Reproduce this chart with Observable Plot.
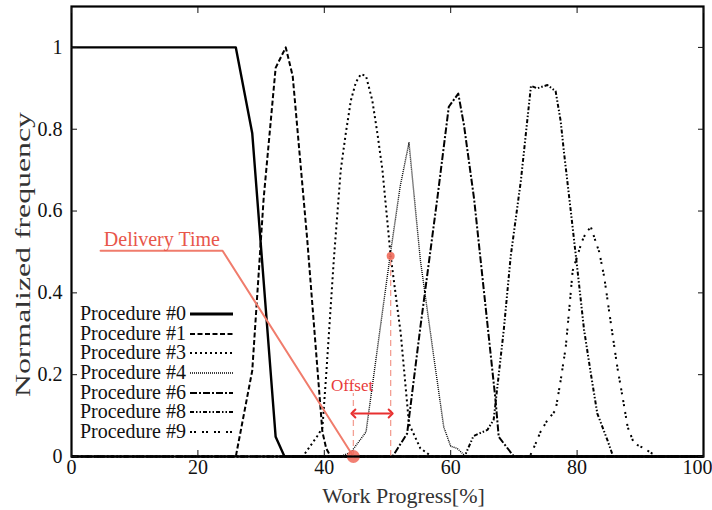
<!DOCTYPE html>
<html><head><meta charset="utf-8">
<script src="https://cdn.jsdelivr.net/npm/d3@7"></script>
<script src="https://cdn.jsdelivr.net/npm/@observablehq/plot@0.6"></script>
<style>
body{margin:0;background:#fff;}
#wrap{position:relative;width:712px;height:510px;font-family:"Liberation Serif","Times New Roman","DejaVu Serif",serif;}
#legend{position:absolute;left:76px;top:304px;}
.row{display:flex;align-items:center;height:19.7px;}
.row span{display:inline-block;width:110px;text-align:right;font-size:20px;line-height:19.7px;color:#111;white-space:nowrap;}
.row svg{display:block;margin-left:3px;}
</style></head><body><div id="wrap"><div id="legend"></div></div>
<script>
// ---- data ----
const xTicks = [0, 20, 40, 60, 80];
const xTickLast = [100];
const yTicks = [0, 0.2, 0.4, 0.6, 0.8, 1];
const names = ["Procedure #0","Procedure #1","Procedure #3","Procedure #4","Procedure #6","Procedure #8","Procedure #9"];

const p0x = [0, 26, 28.6, 32.3, 33.7, 100];
const p0y = [1, 1, 0.79, 0.048, 0, 0];

const p1x = [0, 26, 28.6, 30.4, 32.3, 33.9, 35.0, 37.3, 39.7, 40.3, 41, 100];
const p1y = [0, 0, 0.21, 0.63, 0.95, 1.0, 0.93, 0.53, 0.06, 0.02, 0, 0];

const p3x = [0, 36.6, 38.9, 39.7, 40.3, 41.5, 42.6, 43.4, 44.2, 45.0, 45.8, 46.6, 47.6, 48.4, 49.2, 50.5, 52.1, 53.4, 55.2, 57, 100];
const p3y = [0, 0, 0.05, 0.07, 0.2, 0.48, 0.7, 0.79, 0.87, 0.915, 0.935, 0.93, 0.87, 0.79, 0.7, 0.49, 0.3, 0.08, 0.02, 0, 0];

const p4x = [0, 42.5, 44.2, 46.6, 47.4, 48.9, 50.5, 52, 53.4, 55.2, 57.4, 58.9, 60, 61, 62.4, 100];
const p4y = [0, 0, 0.01, 0.06, 0.15, 0.32, 0.5, 0.66, 0.767, 0.48, 0.235, 0.072, 0.025, 0.02, 0, 0];

const p6x = [0, 50.8, 53.1, 55.2, 57.9, 59.7, 61.2, 62.1, 63.7, 67.1, 67.6, 70, 100];
const p6y = [0, 0, 0.056, 0.316, 0.633, 0.855, 0.887, 0.81, 0.63, 0.137, 0.048, 0, 0];

const p8x = [0, 62.2, 63.6, 65.8, 66.8, 67.6, 68.4, 69.5, 71.1, 72.7, 73.7, 75.3, 76.6, 77.4, 77.9, 79, 80.1, 81.1, 82.2, 83.2, 84.8, 85.7, 100];
const p8y = [0, 0, 0.05, 0.065, 0.09, 0.2, 0.31, 0.49, 0.674, 0.906, 0.9, 0.908, 0.893, 0.82, 0.747, 0.6, 0.45, 0.31, 0.2, 0.105, 0.04, 0, 0];

const p9x = [0, 72.5, 73.4, 74.2, 75.3, 76.6, 77.4, 78.2, 78.7, 79.3, 80.3, 80.8, 81.5, 82.2, 82.9, 83.5, 84.3, 85.3, 86.4, 87.2, 88.0, 89.0, 90.6, 91.9, 93, 100];
const p9y = [0, 0, 0.03, 0.06, 0.089, 0.113, 0.186, 0.267, 0.35, 0.454, 0.503, 0.527, 0.55, 0.56, 0.527, 0.5, 0.438, 0.33, 0.215, 0.145, 0.072, 0.032, 0.02, 0.007, 0, 0];

// annotation values (data units)
const deliveryPathX = [4.6, 23.9, 44.6];
const deliveryPathY = [0.503, 0.503, 0];
const deliveryLabel = "Delivery Time";
const deliveryLabelAt = [14.3, 0.53];
const deliveryPoint = [44.6, 0];
const crossPoint = [50.5, 0.49];
const offsetArrowY = 0.105;
const offsetGuideTop = 0.154;
const offsetLabel = "Offset";
const offsetLabelAt = [44.4, 0.174];
const xLabel = "Work Progress[%]";
const yLabel = "Normalized frequency";

// ---- styles ----
const seriesX = [p0x, p1x, p3x, p4x, p6x, p8x, p9x];
const seriesY = [p0y, p1y, p3y, p4y, p6y, p8y, p9y];
const styles = [
  {dash: null, w: 2.4},
  {dash: "5,2.5", w: 2},
  {dash: "2,3", w: 2},
  {dash: "1,1", w: 1.4},
  {dash: "7,2,2,2", w: 2},
  {dash: "4,2,1.5,2,1.5,2", w: 2},
  {dash: "2,2,2,6", w: 2}
];
const salmon = "#f07c6c", red = "#e83030";

const lineMarks = seriesX.map((xs, i) =>
  Plot.line(d3.zip(xs, seriesY[i]), {x: d => d[0], y: d => d[1], stroke: "black",
    strokeWidth: styles[i].w, strokeDasharray: styles[i].dash ?? undefined, strokeLinecap: "butt"}));

const chart = Plot.plot({
  width: 712, height: 510,
  marginLeft: 71, marginRight: 9, marginTop: 6, marginBottom: 54,
  x: {domain: [0, 100]},
  y: {domain: [0, 1.1]},
  style: {fontFamily: "'Liberation Serif', 'Times New Roman', 'DejaVu Serif', serif", fontSize: "20px", color: "#111", background: "white"},
  marks: [
    ...lineMarks,
    Plot.line(d3.zip(deliveryPathX, deliveryPathY), {x: d => d[0], y: d => d[1], stroke: salmon, strokeWidth: 2}),
    Plot.text([deliveryLabelAt], {x: d => d[0], y: d => d[1], text: () => deliveryLabel, fill: "#e8564a", fontSize: 20}),
    Plot.ruleX([[deliveryPoint[0], offsetGuideTop], crossPoint], {x: d => d[0], y1: 0, y2: d => d[1], stroke: "#f3a094", strokeWidth: 1.3, strokeDasharray: "6,4"}),
    Plot.link([[deliveryPoint[0], crossPoint[0], offsetArrowY]], {x1: d => d[0], x2: d => d[1], y1: d => d[2], y2: d => d[2], stroke: red, strokeWidth: 2, markerStart: "arrow-reverse", markerEnd: "arrow"}),
    Plot.text([offsetLabelAt], {x: d => d[0], y: d => d[1], text: () => offsetLabel, fill: "#e83a3a", fontSize: 17}),
    Plot.dot([crossPoint], {x: d => d[0], y: d => d[1], r: 4, fill: "#f06a5a", fillOpacity: 0.9}),
    Plot.dot([deliveryPoint], {x: d => d[0], y: d => d[1], r: 6.5, fill: "#f06a5a", fillOpacity: 0.85}),
    Plot.frame({stroke: "black", strokeWidth: 2.2}),
    Plot.axisX([...xTicks, ...xTickLast], {anchor: "bottom", tickSize: -6, tickFormat: () => "", label: null}),
    Plot.axisX([...xTicks, ...xTickLast], {anchor: "top", tickSize: -6, tickFormat: () => "", label: null}),
    Plot.axisY(yTicks, {anchor: "left", tickSize: -6, tickFormat: () => "", label: null}),
    Plot.axisY(yTicks, {anchor: "right", tickSize: -6, tickFormat: () => "", label: null}),
    Plot.axisX(xTicks, {anchor: "bottom", tickSize: 0, tickPadding: 3, tickFormat: d => String(d), label: null, fontSize: 20}),
    Plot.axisX(xTickLast, {anchor: "bottom", tickSize: 0, tickPadding: 3, dx: -6, tickFormat: d => String(d), label: null, fontSize: 20}),
    Plot.axisY(yTicks, {anchor: "left", tickSize: 0, tickPadding: 9, tickFormat: d => String(d), label: null, fontSize: 20}),
    Plot.text([xLabel], {frameAnchor: "bottom", dx: 16, dy: 39, lineAnchor: "middle", text: d => d, fontSize: 22, fill: "#333"}),
    Plot.text([yLabel], {frameAnchor: "left", dx: -49, dy: 23, rotate: -90, textAnchor: "middle", lineAnchor: "middle", text: d => d, fontSize: 22, fill: "#333"})
  ]
});
document.getElementById("wrap").prepend(chart);

// stretch the y label along its length as in the reference
d3.select(chart).selectAll("text").filter(function() { return this.textContent === yLabel; })
  .attr("textLength", 285).attr("lengthAdjust", "spacingAndGlyphs");

// legend
const leg = d3.select("#legend");
names.forEach((n, i) => {
  const row = leg.append("div").attr("class", "row");
  row.append("span").text(n);
  const s = row.append("svg").attr("width", 46).attr("height", 20);
  s.append("line").attr("x1", 1).attr("x2", 44).attr("y1", 10).attr("y2", 10)
    .attr("stroke", "black").attr("stroke-width", i === 0 ? 3 : styles[i].w)
    .attr("stroke-dasharray", styles[i].dash);
});
</script>
</body></html>
